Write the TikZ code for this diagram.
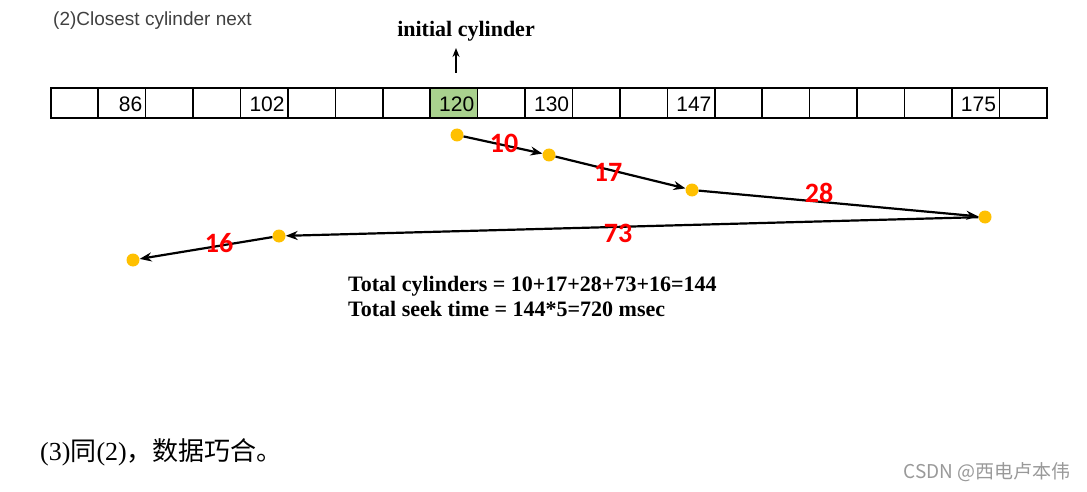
\documentclass[tikz,border=0pt]{standalone}
\usepackage{fontspec}
\setmainfont{Liberation Serif}
\setsansfont{Liberation Sans}
\newfontfamily\cjk{Noto Sans CJK SC}
\newfontfamily\calib{Carlito}
\usetikzlibrary{arrows.meta}

\definecolor{cellgreen}{HTML}{A9D18E}
\definecolor{dotorange}{HTML}{FFC000}
\definecolor{titlegray}{HTML}{404040}

\tikzset{
  cell/.style={draw,line width=1.6pt,minimum width=47.43pt,minimum height=30pt,inner sep=0pt,anchor=west},
  num/.style={font=\sffamily\fontsize{21}{23}\selectfont,anchor=east,inner sep=0pt},
  bold/.style={font=\bfseries\fontsize{22}{24}\selectfont,inner sep=0pt},
  dot/.style={circle,fill=dotorange,minimum size=13pt,inner sep=0pt},
  seek/.style={line width=2.2pt,-{Stealth[length=12pt,width=9pt]}},
  lbl/.style={font=\calib\bfseries\fontsize{28}{30}\selectfont,text=red,inner sep=0pt}
}

\begin{document}
\begin{tikzpicture}[x=1pt,y=-1pt]
  \useasboundingbox (0,0) rectangle (1087,492);
  \node[anchor=west,text=titlegray,font=\sffamily\fontsize{19}{21}\selectfont,inner sep=0pt] (title) at (53,21) {(2)Closest cylinder next};
  % cylinder bar
  \foreach \i in {0,...,20} \node[cell] (c\i) at ({50+47.43*\i},103) {};
  \node[cell,fill=cellgreen] (init) at (c8.west) {};
  \foreach \i/\v in {1/86,4/102,8/120,10/130,13/147,19/175}
    \node[num] at ([xshift=-4pt,yshift=-1pt]c\i.east) {\v};
  \node[bold] (initlab) at (466,31) {initial cylinder};
  \coordinate (tail) at (456,73); \coordinate (tip) at (456,48);
  \draw[line width=1.8pt,-{Stealth[length=9pt,width=7pt]}] (tail) -- (tip);
  % head movement
  \node[dot] (d1) at (457,135) {}; \node[dot] (d2) at (549,155) {};
  \node[dot] (d3) at (692,190) {}; \node[dot] (d4) at (985,217) {};
  \node[dot] (d5) at (279,236) {}; \node[dot] (d6) at (133,260) {};
  \draw[seek] (d1) -- (d2); \draw[seek] (d2) -- (d3); \draw[seek] (d3) -- (d4);
  \draw[seek] (d4) -- (d5); \draw[seek] (d5) -- (d6);
  \node[lbl] (l10) at (504,143) {10};
  \node[lbl] (l17) at (608,172) {17};
  \node[lbl] (l28) at (819,193) {28};
  \node[lbl] (l73) at (618,233) {73};
  \node[lbl] (l16) at (219,243) {16};
  % totals
  \node[bold,anchor=base west] (tcyl) at (348,291) {Total cylinders = 10+17+28+73+16=144};
  \node[bold,anchor=base west] (ttime) at (348,316) {Total seek time = 144*5=720 msec};
  \node[anchor=base west,inner sep=0pt,font=\fontsize{26}{28}\selectfont] (note) at (40,460) {(3){\cjk 同}(2){\cjk ，数据巧合。}};
  \node[anchor=base east,inner sep=0pt,text=black!40,font=\cjk\fontsize{19}{21}\selectfont] (mark) at (1071,478) {CSDN @西电卢本伟};
\end{tikzpicture}
\end{document}
